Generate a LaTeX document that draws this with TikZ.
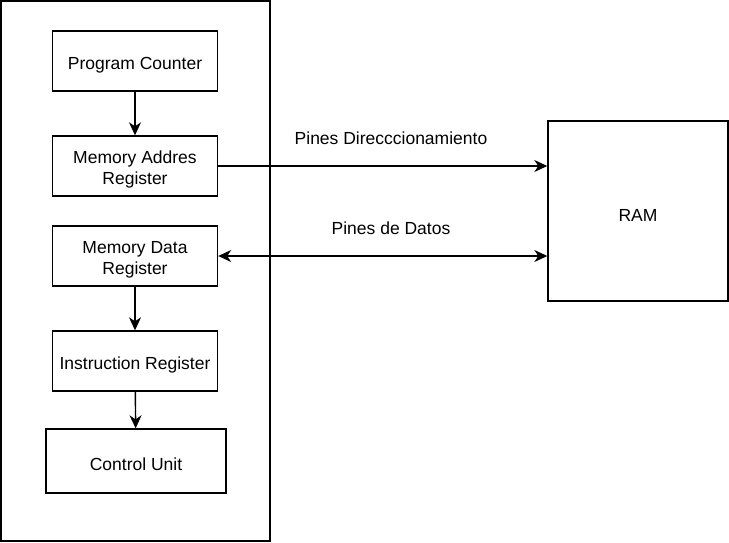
\documentclass[tikz,border=0pt]{standalone}
\usepackage{fontspec}
\setmainfont{Liberation Sans}
\usetikzlibrary{arrows.meta, positioning}

\begin{document}
\begin{tikzpicture}[x=1pt, y=-1pt, every node/.style={draw, line width=1.4pt, align=center, inner sep=0pt, font=\fontsize{17.5}{21}\selectfont}, reg/.style={minimum width=165pt, minimum height=60pt}, lbl/.style={draw=none}, arr/.style={-{Stealth[length=13pt, width=12pt, inset=4pt]}, line width=1.4pt}, arr2/.style={{Stealth[length=13pt, width=12pt, inset=4pt]}-{Stealth[length=13pt, width=12pt, inset=4pt]}, line width=1.4pt}]
    \useasboundingbox (0,0) rectangle (729,542);
    \node[minimum width=269pt, minimum height=540pt] (cpu) at (135.5,271) {};
    \node[reg] (pc) at (135,61) {\rule{0pt}{20pt}Program Counter};
    \node[reg] (mar) at (135,166) {\rule{0pt}{20pt}Memory Addres\\Register};
    \node[reg] (mdr) at (135,256) {\rule{0pt}{20pt}Memory Data\\Register};
    \node[reg] (ir) at (135,361) {\rule{0pt}{20pt}Instruction Register};
    \node[minimum width=180pt, minimum height=64pt] (cu) at (136,461) {\rule{0pt}{20pt}Control Unit};
    \node[minimum width=180pt, minimum height=180pt] (ram) at (638,211) {\rule{0pt}{20pt}RAM};
    \node[lbl] (dir) at (391,138) {Pines Direcccionamiento};
    \node[lbl] (dat) at (391,228) {Pines de Datos};
    \draw[arr] (pc) -- (mar);
    \draw[arr] (mdr) -- (ir);
    \draw[arr] (ir) -- (cu);
    \draw[arr] (mar.east) -- (mar.east -| ram.west);
    \draw[arr2] (mdr.east) -- (mdr.east -| ram.west);
\end{tikzpicture}
\end{document}
